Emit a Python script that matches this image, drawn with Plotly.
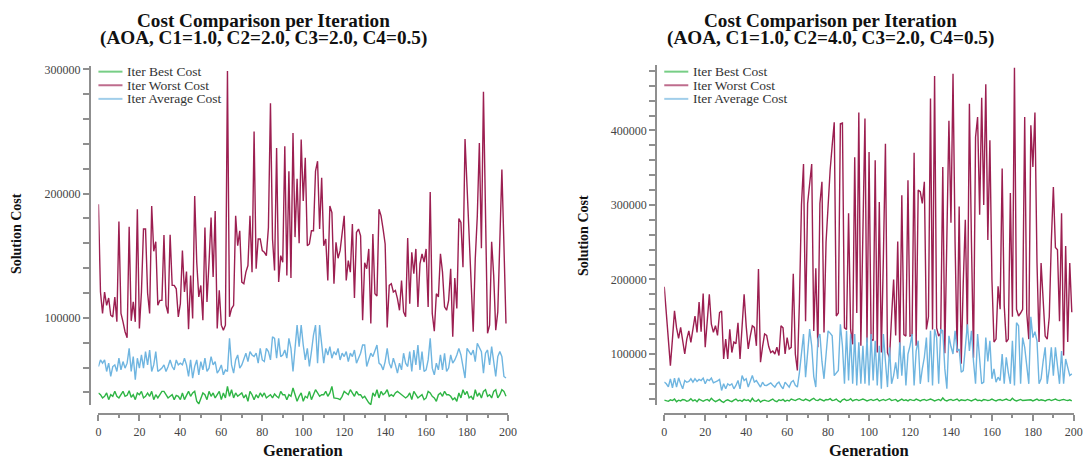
import plotly.graph_objects as go

# ---------------- data ----------------
generations = list(range(200))

left_best = [
39500, 38100, 35500, 36800, 39500, 34100, 38100, 36800, 40800, 36800,
35500, 38100, 40800, 36800, 37600, 41300, 36000, 38100, 34100, 39500,
38100, 40800, 35500, 36800, 39500, 36800, 40800, 34100, 38100, 35500,
38700, 40800, 40800, 38100, 35500, 36800, 38100, 34100, 37600, 36800,
34100, 39500, 34100, 37600, 40800, 36800, 39500, 40800, 32800, 30700,
35500, 39500, 38100, 34100, 40800, 36800, 39500, 35500, 38100, 40800,
34100, 39500, 35500, 44800, 36800, 42100, 35500, 39500, 36800, 38100,
39500, 35500, 38100, 32800, 40800, 38100, 34100, 38100, 35500, 39500,
36800, 39500, 35500, 36800, 38100, 35500, 38700, 36800, 35500, 40800,
38100, 38100, 34100, 38100, 36800, 43500, 38100, 32800, 36800, 39500,
32800, 36800, 35500, 40800, 34100, 38100, 42100, 39500, 36800, 38100,
38100, 40800, 36800, 39500, 44800, 35500, 35500, 34900, 34100, 36800,
40800, 39500, 38100, 42100, 39500, 36800, 40800, 38100, 38100, 35500,
36800, 34100, 31500, 30100, 39500, 36800, 42100, 35500, 40800, 38100,
39500, 42100, 36800, 38100, 36800, 39500, 40800, 39500, 38100, 36800,
35500, 36800, 39500, 34100, 40800, 38100, 35500, 36800, 38100, 34100,
35500, 40800, 39500, 36800, 35500, 32800, 38100, 39500, 36800, 40800,
38100, 38100, 36800, 34100, 35500, 32800, 39500, 35500, 42100, 38100,
40800, 35500, 36800, 34100, 42100, 36800, 39500, 35500, 40800, 42100,
36800, 38100, 35500, 40800, 42100, 35500, 38100, 42100, 40800, 36800,
]

left_worst = [
191500, 120800, 103500, 120800, 110100, 116000, 102100, 100800, 116800, 96800,
177600, 103500, 96800, 88800, 84000, 173300, 97600, 112800, 96800, 187500,
91400, 120800, 171500, 171500, 120000, 103500, 190100, 153600, 161300, 110100,
114100, 114100, 166700, 110100, 103500, 166900, 126100, 126100, 123400, 100800,
111400, 154100, 120800, 137300, 90900, 134100, 99400, 198100, 144800, 116800,
126100, 98100, 172800, 112800, 144800, 180800, 132800, 186100, 91400, 122100,
94100, 90100, 94100, 298700, 100800, 107500, 110100, 182100, 158100, 170100,
128800, 127500, 136800, 142100, 182100, 136800, 250100, 139500, 163500, 163500,
154100, 152800, 150100, 172800, 272800, 163500, 138100, 236800, 128800, 150100,
144800, 238100, 134100, 218100, 132000, 248800, 165000, 212000, 160000, 243500,
194100, 228800, 158100, 159500, 170100, 170100, 218100, 226100, 171500, 212800,
158100, 163500, 130100, 190100, 184800, 127500, 160800, 148000, 154100, 166100,
182100, 130100, 146100, 136800, 175500, 116000, 168800, 171500, 166100, 98100,
144300, 139500, 155500, 95400, 167500, 119400, 117600, 187500, 182100, 171500,
159500, 92200, 126100, 127500, 120800, 122100, 115500, 106100, 130100, 104800,
100800, 164300, 111400, 152800, 135500, 155500, 108800, 143500, 151500, 144800,
155500, 108800, 201300, 103500, 89300, 119400, 116800, 151500, 136800, 108800,
106100, 114100, 139500, 84800, 132000, 107500, 180000, 176800, 140800, 244000,
206100, 166100, 126100, 88800, 147500, 182100, 240800, 156000, 282100, 171500,
87500, 94100, 161300, 134100, 90100, 104800, 156800, 219500, 158100, 95400,
]

left_avg = [
60800, 66100, 63500, 66100, 56800, 63500, 52800, 60800, 62100, 56800,
67500, 58100, 64800, 59500, 63500, 75400, 56800, 68800, 50100, 67500,
59500, 70100, 59500, 72800, 62100, 74100, 56800, 62100, 72800, 56800,
58100, 59500, 62100, 56800, 60800, 66100, 60800, 58100, 66100, 62100,
63500, 62100, 67500, 62100, 52800, 66100, 51500, 60800, 66100, 54100,
64800, 58100, 67500, 56800, 59500, 68800, 62100, 64800, 55500, 58100,
62100, 54100, 58100, 56800, 83500, 62100, 55500, 66100, 70100, 59500,
62100, 67500, 71500, 64800, 72800, 70100, 68800, 71500, 63500, 75400,
66100, 64800, 75400, 72800, 66100, 84800, 83500, 67500, 83500, 68800,
70100, 74100, 67500, 83500, 75400, 56800, 78100, 94100, 76800, 94100,
78100, 66100, 75400, 60800, 72800, 86100, 94100, 63500, 94100, 78100,
63500, 75400, 70100, 76800, 67500, 72800, 70100, 75400, 66100, 71500,
68800, 72800, 64800, 71500, 68800, 74100, 63500, 67500, 71500, 78100,
78100, 60800, 66100, 71500, 68800, 74100, 78100, 63500, 62100, 58100,
64800, 75400, 63500, 59500, 67500, 62100, 55500, 63500, 58100, 71500,
63500, 60800, 72800, 56800, 74100, 62100, 78100, 58100, 72800, 56800,
58100, 66100, 83500, 59500, 54100, 63500, 58100, 70100, 58100, 71500,
56800, 59500, 70100, 63500, 66100, 70100, 75400, 70100, 62100, 51500,
75400, 72800, 70100, 74100, 64800, 79500, 75400, 72800, 55500, 71500,
74100, 62100, 76800, 66100, 52800, 68800, 72800, 68800, 52800, 51500,
]

right_best = [
38000, 37000, 36500, 38500, 37500, 39500, 36000, 38000, 37000, 39000,
38500, 36500, 37500, 40000, 37000, 38500, 36000, 39500, 37500, 36500,
38000, 39000, 37000, 40500, 38000, 36000, 37500, 39000, 36500, 35000,
37500, 38500, 37000, 36000, 38000, 39500, 37000, 38000, 36500, 39000,
37500, 38500, 36000, 40500, 37000, 36500, 39000, 35500, 37500, 38000,
37000, 36500, 38000, 39500, 37000, 36000, 38500, 37500, 39000, 36500,
38000, 37000, 39500, 38000, 37500, 39000, 40000, 38500, 37500, 39500,
38000, 37000, 39000, 40500, 38000, 37500, 39500, 38500, 37000, 39000,
38500, 40000, 37500, 38000, 39500, 37000, 35500, 38500, 39500, 37500,
38000, 40000, 37000, 38500, 39000, 37500, 38000, 39500, 38500, 37000,
38000, 39000, 37500, 38500, 39500, 37000, 38000, 39000, 37500, 38500,
40000, 37500, 38000, 39000, 36500, 38000, 39500, 37500, 38500, 37000,
39000, 38000, 37500, 39500, 38000, 37000, 38500, 39000, 37500, 38000,
39500, 38500, 37000, 38000, 39000, 37500, 41000, 38000, 37000, 38500,
39000, 37500, 38000, 39500, 37000, 38500, 38000, 37500, 39000, 38000,
37000, 38500, 39500, 37500, 38000, 37000, 39000, 38500, 37500, 38000,
39500, 38000, 37000, 38500, 39000, 37500, 38000, 39500, 38000, 37500,
40500, 38000, 37000, 38500, 39000, 37500, 38000, 37500, 39000, 38500,
37000, 38000, 39500, 37500, 38500, 38000, 37000, 38500, 39000, 37500,
38000, 39500, 38000, 37500, 38500, 39000, 38000, 37500, 38500, 37000,
]

right_worst = [
190200, 150000, 110000, 84400, 120000, 157800, 135000, 121000, 135600, 115000,
100000, 120000, 131000, 115600, 135000, 151000, 129000, 169800, 130000, 181000,
109000, 150000, 180000, 140000, 129000, 138000, 125000, 155600, 157800, 93300,
120000, 93300, 133000, 102000, 116000, 114000, 142000, 93300, 130000, 180000,
137800, 106700, 124000, 137800, 135600, 111000, 214000, 89000, 110000, 127000,
125000, 110000, 102000, 104000, 100000, 109000, 98000, 137800, 135000, 100000,
122000, 106700, 109000, 207600,
100000, 77800, 170000, 300000, 355000, 144000, 302000, 330000, 355000, 131000,
215000, 109000, 302000, 331000, 129000, 250000, 307000, 347000, 380000, 411000,
151000, 155000, 409000, 410000, 135000, 133000, 289000, 133000, 113000, 364000,
155000, 424000, 111000, 250000, 416000, 115000, 371000, 120000, 118000, 360000,
102000, 304000, 102000, 230000, 382000, 102000, 95000, 150000, 200000, 125000,
251000, 104000, 313000, 126000, 124000, 333000, 124000, 125000, 370000, 111000,
320000, 318000, 302000, 331000, 133000, 150000, 443000, 133000, 473000, 135000,
124000, 128000, 351000, 101000, 250000, 413000, 276000, 476000, 250000, 102000,
298000, 87000, 196000, 280000, 129000, 436000, 250000, 95000, 391000, 418000,
287000, 444000, 300000, 462000, 253000, 387000, 200000, 116000, 120000, 191000,
160000, 349000, 165000, 116000, 120000, 316000, 150000, 484000, 160000, 151000,
155000, 160000, 418000, 155000, 120000, 407000, 351000, 424000, 223000, 116000,
222000, 170000, 124000, 120000, 150000, 251000, 324000, 243000, 240000, 144000,
289000, 98000, 245000, 116000, 222000, 156000,
]

right_avg = [
62200, 60000, 56000, 66700, 54700, 67600, 55600, 68000, 60000, 53300,
64400, 62000, 63100, 66700, 62200, 66700, 63100, 65800, 64400, 67600,
60000, 65800, 64400, 67600, 61300, 62200, 64000, 65800, 51100, 60000,
53300, 60000, 57800, 60000, 53300, 57800, 64400, 53300, 71100, 64400,
66700, 55600, 62200, 71100, 62200, 64400, 60000, 55600, 62200, 58000,
57800, 60000, 61300, 58000, 55600, 60000, 62200, 57000, 53300, 62200,
58000, 55600, 62200, 64400, 58000, 55600,
75000, 98000, 126700, 68900, 100000, 133300, 111000, 70000, 55600, 120000,
126700, 90000, 66700, 100000, 131000, 128000, 124400, 71000, 75000, 77800,
140000, 111000, 60000, 131000, 64400, 126700, 60000, 126700, 57800, 115600,
60000, 111000, 60000, 122000, 57800, 126700, 64400, 117800, 57800, 111000,
53300, 126700, 90000, 55600, 108900, 60000, 71000, 88900, 66700, 115600,
71000, 111000, 57800, 100000, 111000, 126700, 57800, 104000, 117800, 60000,
80000, 95600, 122000, 62200, 131000, 57800, 133300, 122000, 60000, 133300,
131000, 80000, 53300, 124400, 110000, 100000, 131000, 104000, 106700, 75600,
77800, 110000, 140000, 104000, 131000, 90000, 60000, 126700, 90000, 60000,
62200, 122000, 90000, 117800, 66700, 80000, 62200, 68900, 64400, 100000,
60000, 95600, 75000, 60000, 117800, 57800, 142000, 137800, 60000, 122000,
108900, 80000, 60000, 149800, 122000, 130000, 117800, 60000, 66700, 90000,
108900, 60000, 80000, 108900, 71000, 108900, 80000, 60000, 104000, 60000,
93300, 80000, 71000, 73300,
]

for name, arr in [("left_best", left_best), ("left_worst", left_worst), ("left_avg", left_avg),
                  ("right_best", right_best), ("right_worst", right_worst), ("right_avg", right_avg)]:
    assert len(arr) == 200, (name, len(arr))

series_names = ["Iter Best Cost", "Iter Worst Cost", "Iter Average Cost"]
panel_titles = [
    ("Cost Comparison per Iteration", "(AOA, C1=1.0, C2=2.0, C3=2.0, C4=0.5)"),
    ("Cost Comparison per Iteration", "(AOA, C1=1.0, C2=4.0, C3=2.0, C4=0.5)"),
]

# ---------------- styling / geometry ----------------
W, H = 1094, 460
SX, OX, OY = 0.9876, 3.0, 2.4   # observed photo transform (page -> picture)
C_BEST = "#2fb545"
C_WORST = "#9c1f51"
C_AVG = "#6fb5e0"
AXIS_C = "#8f8f8f"
SERIF = "Liberation Serif, Times New Roman, serif"


def tx(x):   # target picture x -> page x
    return (x - OX) / SX


def ty(y):   # target picture y -> page y
    return y - OY


def px(x):
    return tx(x) / W


def py(y):
    return 1 - ty(y) / H


fig = go.Figure()

panels = [
    dict(xa="x", ya="y", data=(left_best, left_worst, left_avg)),
    dict(xa="x2", ya="y2", data=(right_best, right_worst, right_avg)),
]
colors = [C_BEST, C_WORST, C_AVG]
for p in panels:
    for name, vals, col in zip(series_names, p["data"], colors):
        fig.add_trace(go.Scatter(
            x=generations, y=vals, mode="lines", name=name,
            line=dict(color=col, width=1.4), xaxis=p["xa"], yaxis=p["ya"],
            showlegend=False, hoverinfo="skip",
        ))

tickfont = dict(family=SERIF, size=12, color="#444")


def xaxis_cfg(x0, x1):
    return dict(
        domain=[px(x0), px(x1)], range=[0, 200], anchor="free", position=py(416.5),
        showgrid=False, zeroline=False, showline=True, linecolor=AXIS_C, linewidth=1.5,
        ticks="outside", ticklen=6, tickwidth=1.5, tickcolor=AXIS_C, dtick=20, tick0=0,
        minor=dict(dtick=10, tick0=0, ticks="outside", ticklen=3, tickwidth=1.5,
                   tickcolor=AXIS_C, showgrid=False),
        tickfont=tickfont, fixedrange=True,
    )


def yaxis_cfg(xpos, rng, ytop, ybot):
    return dict(
        domain=[py(ybot), py(ytop)], range=rng, anchor="free", position=px(xpos),
        showgrid=False, zeroline=False, showline=True, linecolor=AXIS_C, linewidth=1.5,
        ticks="outside", ticklen=6, tickwidth=1.5, tickcolor=AXIS_C,
        dtick=100000, tick0=0, tickformat="d",
        minor=dict(dtick=20000, tick0=0, ticks="outside", ticklen=6, tickwidth=1.5,
                   tickcolor=AXIS_C, showgrid=False),
        tickfont=tickfont, fixedrange=True,
    )


# left: 100000 @ y=319.3, 300000 @ y=69.3  (125 px / 100k)
l_rng = [29500, 303000]
l_top = 319.3 - (l_rng[1] - 100000) * 0.00125
l_bot = 319.3 + (100000 - l_rng[0]) * 0.00125
# right: 100000 @ y=355.7, 400000 @ y=130.7 (75 px / 100k)
r_rng = [31000, 488000]
r_top = 355.7 - (r_rng[1] - 100000) * 0.00075
r_bot = 355.7 + (100000 - r_rng[0]) * 0.00075

fig.update_layout(
    width=W, height=H, margin=dict(l=0, r=0, t=0, b=0),
    paper_bgcolor="white", plot_bgcolor="white", showlegend=False,
    xaxis=xaxis_cfg(98.3, 507.3),
    yaxis=yaxis_cfg(89.5, l_rng, l_top, l_bot),
    xaxis2=xaxis_cfg(663.3, 1072.3),
    yaxis2=yaxis_cfg(655, r_rng, r_top, r_bot),
)

annotations = []
shapes = []
panel_geo = [
    dict(title_x=263, xlab_x=303, ylab_x=16, ylab_y=235, leg_x=98.3),
    dict(title_x=829, xlab_x=868, ylab_x=582, ylab_y=236, leg_x=663.3),
]
for (t1, t2), g in zip(panel_titles, panel_geo):
    annotations.append(dict(text=f"<b>{t1}</b>", x=px(g["title_x"]), y=py(20), xref="paper", yref="paper",
                            showarrow=False, xanchor="center", yanchor="middle",
                            font=dict(family=SERIF, size=19.2, color="#111")))
    annotations.append(dict(text=f"<b>{t2}</b>", x=px(g["title_x"]), y=py(37.5), xref="paper", yref="paper",
                            showarrow=False, xanchor="center", yanchor="middle",
                            font=dict(family=SERIF, size=19.2, color="#111")))
    annotations.append(dict(text="<b>Generation</b>", x=px(g["xlab_x"]), y=py(452.5), xref="paper", yref="paper",
                            showarrow=False, xanchor="center", yanchor="middle",
                            font=dict(family=SERIF, size=16.5, color="#111")))
    annotations.append(dict(text="<b>Solution Cost</b>", x=px(g["ylab_x"]), y=py(g["ylab_y"]), xref="paper",
                            yref="paper", showarrow=False, xanchor="center", yanchor="middle", textangle=-90,
                            font=dict(family=SERIF, size=14, color="#111")))
    for i, (name, col) in enumerate(zip(series_names, colors)):
        yy = 71.5 + i * 13.7
        shapes.append(dict(type="line", xref="paper", yref="paper",
                           x0=px(g["leg_x"]), x1=px(g["leg_x"] + 24), y0=py(yy), y1=py(yy),
                           line=dict(color=col, width=2), opacity=0.65))
        annotations.append(dict(text=name, x=px(g["leg_x"] + 27), y=py(yy), xref="paper", yref="paper",
                                showarrow=False, xanchor="left", yanchor="middle",
                                font=dict(family=SERIF, size=13.5, color="#333")))

fig.update_layout(annotations=annotations, shapes=shapes)
fig.write_html(
    "out.html",
    config={"displayModeBar": False},
    post_script="document.body.style.margin='0';document.body.style.overflow='hidden';",
)
